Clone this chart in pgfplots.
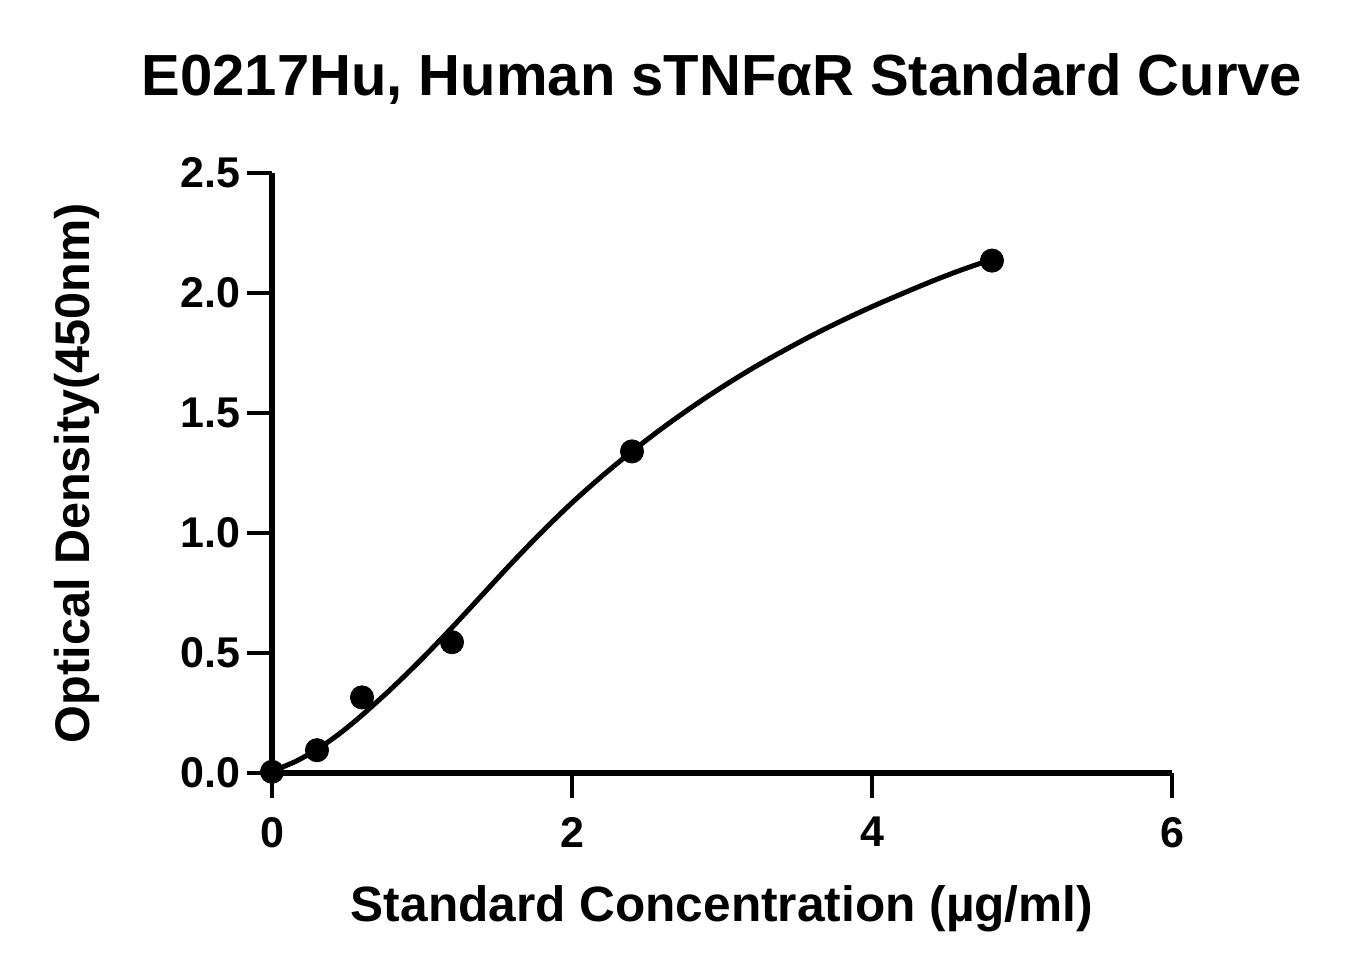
\documentclass[border=0pt]{standalone}
\usepackage{fontspec}
\setmainfont{Liberation Sans}
\usepackage{pgfplots}
\pgfplotsset{compat=1.18}

% measured data points
\pgfplotstableread{
x y
0 0.005
0.3 0.095
0.6 0.315
1.2 0.545
2.4 1.34
4.8 2.135
}\standards

% fitted curve
\pgfplotstableread{
x y
0 0.008
0.15 0.046
0.3 0.098
0.45 0.164
0.6 0.241
0.8 0.354
1.0 0.476
1.2 0.606
1.4 0.741
1.6 0.876
1.8 1.005
2.0 1.126
2.2 1.237
2.4 1.340
2.6 1.436
2.8 1.525
3.0 1.608
3.2 1.685
3.4 1.756
3.6 1.823
3.8 1.885
4.0 1.943
4.2 1.997
4.4 2.049
4.6 2.097
4.8 2.140
}\fitcurve

\begin{document}
\begin{tikzpicture}
\begin{axis}[
    at={(0,0)}, anchor=south west,
    scale only axis,
    width=450bp, height=300bp,
    xmin=0, xmax=6,
    ymin=0, ymax=2.5,
    axis lines=left,
    axis line style={-, line width=3bp, black},
    xtick={0,2,4,6},
    ytick={0,0.5,1,1.5,2,2.5},
    tick align=outside,
    major tick length=12.5bp,
    every tick/.style={line width=2bp, black},
    /pgf/number format/assume math mode=true,
    yticklabel style={/pgf/number format/.cd, fixed, fixed zerofill, precision=1},
    xticklabel style={yshift=-6bp, /pgf/number format/.cd, fixed, precision=0},
    tick label style={font=\fontsize{21.5bp}{21.5bp}\selectfont\bfseries},
    title={E0217Hu, Human sTNFαR Standard Curve},
    title style={font=\fontsize{29bp}{29bp}\selectfont\bfseries,
        at={(axis description cs:0.5,1.11)}, anchor=base},
    xlabel={Standard Concentration (µg/ml)},
    xlabel style={font=\fontsize{24.8bp}{24.8bp}\selectfont\bfseries,
        at={(axis description cs:0.5,-0.24667)}, anchor=base},
    ylabel={Optical Density(450nm)},
    ylabel style={font=\fontsize{24.3bp}{24.3bp}\selectfont\bfseries,
        at={(axis description cs:-0.20222,0.5)}, anchor=base},
    clip=false,
]
\addplot[black, line width=2.5bp, smooth, no marks] table[x=x, y=y] {\fitcurve};
\addplot[only marks, mark=*, mark size=5.8bp, black] table[x=x, y=y] {\standards};
\end{axis}
\path (-136bp,-101bp) rectangle (537.5bp,386.5bp);
\end{tikzpicture}
\end{document}
